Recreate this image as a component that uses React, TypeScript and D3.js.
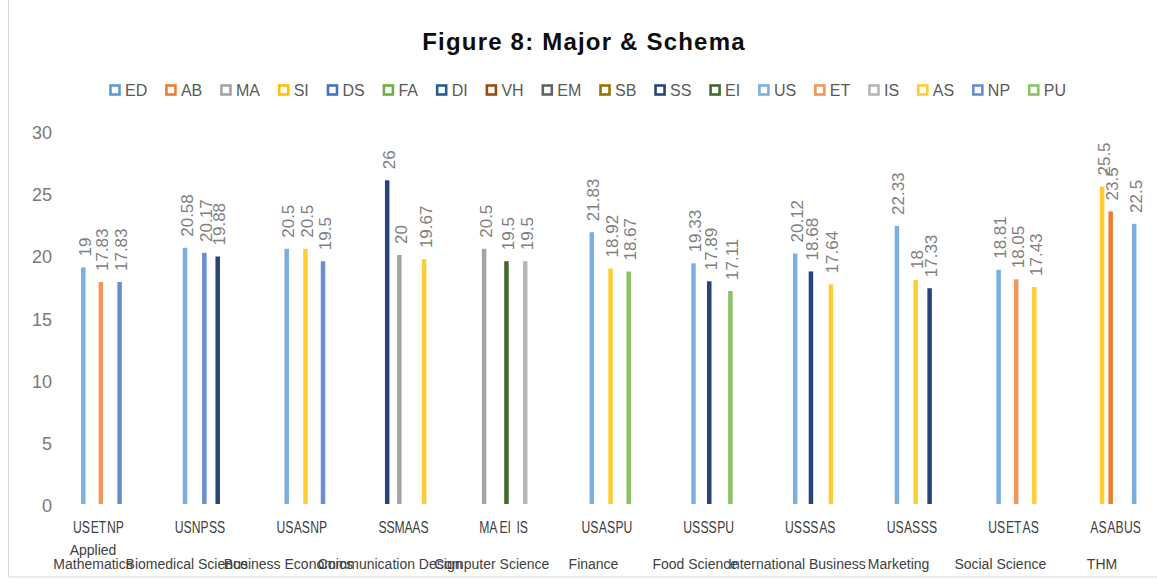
import React from 'react';
import * as d3 from 'd3';

const majorNames = ["Applied Mathematics", "Biomedical Science", "Business Economics", "Communication Design", "Computer Science", "Finance", "Food Science", "International Business", "Marketing", "Social Science", "THM"];
const seriesNames = ["ED", "AB", "MA", "SI", "DS", "FA", "DI", "VH", "EM", "SB", "SS", "EI", "US", "ET", "IS", "AS", "NP", "PU"];
const seriesColors = ["#5B9BD5", "#ED7D31", "#A5A5A5", "#FFC000", "#4472C4", "#70AD47", "#255E91", "#9E480E", "#636363", "#997300", "#264478", "#43682B", "#7CAFDD", "#F1975A", "#B7B7B7", "#FFCD33", "#698ED0", "#8CC168"];
const schemaByMajor = [["US", "ET", "NP"], ["US", "NP", "SS"], ["US", "AS", "NP"], ["SS", "MA", "AS"], ["MA", "EI", "IS"], ["US", "AS", "PU"], ["US", "SS", "PU"], ["US", "SS", "AS"], ["US", "AS", "SS"], ["US", "ET", "AS"], ["AS", "AB", "US"]];
const valuesByMajor = [[19, 17.83, 17.83], [20.58, 20.17, 19.88], [20.5, 20.5, 19.5], [26, 20, 19.67], [20.5, 19.5, 19.5], [21.83, 18.92, 18.67], [19.33, 17.89, 17.11], [20.12, 18.68, 17.64], [22.33, 18, 17.33], [18.81, 18.05, 17.43], [25.5, 23.5, 22.5]];
const yTicks = [0, 5, 10, 15, 20, 25, 30];
const titleText = "Figure 8: Major & Schema";

const W = 1157;
const H = 585;
const SLOTS = 6;
const CAT_W = 16.95;
const PLOT_X0 = 73;
const FONT = "'Liberation Sans', Arial, sans-serif";

const catIds: string[] = [];
majorNames.forEach((_, m) => {
  for (let j = 0; j < SLOTS; j++) {
    if (m === majorNames.length - 1 && j >= 3) continue;
    catIds.push(`${m}-${j}`);
  }
});

const x = d3.scaleBand<string>().domain(catIds).range([PLOT_X0, PLOT_X0 + catIds.length * CAT_W]).padding(0);
const bw = x.bandwidth();
const sub = d3.scalePoint<string>().domain(seriesNames).range([bw * 0.183, bw * 0.785]);
const y = d3.scaleLinear().domain([0, 30]).range([504, 130.5]);
const color = d3.scaleOrdinal<string, string>().domain(seriesNames).range(seriesColors);

function measure(text: string, font: string): number {
  if (typeof document === 'undefined') return text.length * 9;
  const c = document.createElement('canvas');
  const ctx = c.getContext('2d');
  if (!ctx) return text.length * 9;
  ctx.font = font;
  return ctx.measureText(text).width;
}

export default function App() {
  const bars: { key: string; cx: number; v: number; fill: string }[] = [];
  majorNames.forEach((_, m) => {
    schemaByMajor[m].forEach((s, k) => {
      const cat = `${m}-${k}`;
      bars.push({ key: `${m}-${k}-${s}`, cx: (x(cat) as number) + (sub(s) as number), v: valuesByMajor[m][k], fill: color(s) });
    });
  });

  // legend layout
  const legFont = `16px ${FONT}`;
  const widths = seriesNames.map((s) => measure(s, legFont));
  const legStart = 110;
  const legEnd = 1066;
  const itemFixed = 10 + 5;
  const sumW = widths.reduce((a, b) => a + b, 0) + itemFixed * seriesNames.length;
  const gap = (legEnd - legStart - sumW) / (seriesNames.length - 1);
  const legX: number[] = [];
  let cur = legStart;
  widths.forEach((w) => {
    legX.push(cur);
    cur += itemFixed + w + gap;
  });
  const legY = 90.5;
  const innerFont = `16px ${FONT}`;

  return (
    <svg width={W} height={H} style={{ position: 'absolute', left: 0, top: 0, display: 'block', background: '#fff' }}>
      <rect x={8.5} y={-5} width={1200} height={582} fill="#fff" stroke="#d9d9d9" strokeWidth={1} />
      <text x={584} y={50} textAnchor="middle" fontFamily={FONT} fontWeight="bold" fontSize={24} letterSpacing={1.2} fill="#0d0d0d">{titleText}</text>

      {seriesNames.map((s, i) => (
        <g key={s}>
          <rect x={legX[i] + 0.5} y={legY - 5} width={9} height={9} fill="#fff" stroke={color(s)} strokeWidth={2.6} />
          <text x={legX[i] + itemFixed} y={legY} dy="0.35em" fontFamily={FONT} fontSize={16} fill="#595959">{s}</text>
        </g>
      ))}

      {yTicks.map((t) => (
        <text key={t} x={52} y={y(t) + 2} dy="0.35em" textAnchor="end" fontFamily={FONT} fontSize={18} fill="#7a7a7a">{t}</text>
      ))}

      {bars.map((b) => (
        <g key={b.key}>
          <rect x={b.cx - 2.25} y={y(b.v)} width={4.5} height={y(0) - y(b.v)} fill={b.fill} />
          <text transform={`translate(${b.cx + 7.5},${y(b.v) - 11}) rotate(-90)`} fontFamily={FONT} fontSize={17} fill="#7f7f7f">{String(b.v)}</text>
        </g>
      ))}

      {majorNames.map((name, m) => (
        <g key={name}>
          {schemaByMajor[m].map((s, k) => (
            <text key={s + k} x={(x(`${m}-${k}`) as number) + bw / 2} y={533} textAnchor="middle" fontFamily={FONT} fontSize={16}
              textLength={measure(s, innerFont) * 0.76} lengthAdjust="spacingAndGlyphs" fill="#404040">{s}</text>
          ))}
        </g>
      ))}

      {majorNames.map((name, m) => {
        const start = x(`${m}-0`) as number;
        if (m === 0) {
          const words = name.split(' ');
          return (
            <text key={name} x={start + 20} textAnchor="middle" fontFamily={FONT} fontSize={14} fill="#404040">
              {words.map((w, i) => (
                <tspan key={w} x={start + 20} y={555 + i * 14}>{w}</tspan>
              ))}
            </text>
          );
        }
        return (
          <text key={name} x={start + 12} y={569} textAnchor="middle" fontFamily={FONT} fontSize={14} fill="#404040">{name}</text>
        );
      })}
    </svg>
  );
}
